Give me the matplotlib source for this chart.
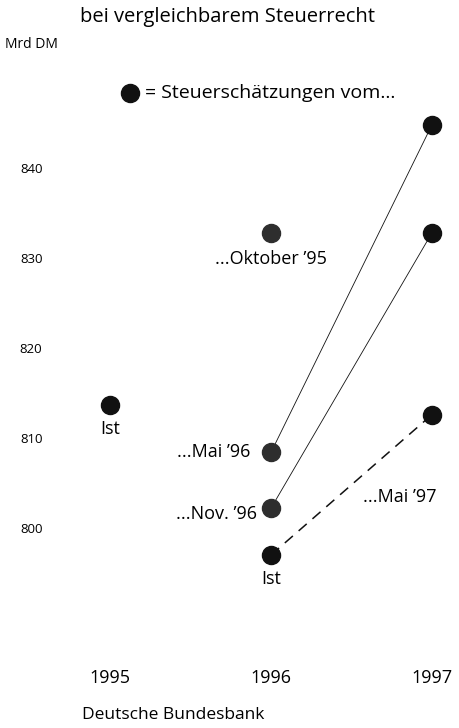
import matplotlib.pyplot as plt

plt.rcParams['font.family'] = ['Open Sans', 'DejaVu Sans']

# Werte (Mrd DM)
years = [1995, 1996, 1997]
ist_years = [1995, 1996]
ist_values = [813.7, 797.0]
okt95_value = 832.8
mai96 = [808.4, 844.8]
nov96 = [802.2, 832.8]
mai97 = [797.0, 812.6]
yticks = [800, 810, 820, 830, 840]

fig = plt.figure(figsize=(4.59, 7.28), dpi=100)
W, H = 459, 728
left, right, top, bottom = 55, 455, 60, 655
ax = fig.add_axes([left / W, 1 - bottom / H, (right - left) / W, (bottom - top) / H])
ax.set_xlim(1995 - 55 / 161, 1995 + 345 / 161)
ax.set_ylim(800 - (bottom - 528) / 9, 800 + (528 - top) / 9)
for s in ax.spines.values():
    s.set_visible(False)

dark = '#111111'
grey = '#2e2e2e'

# Linien der Schaetzungen
ax.plot(years[1:], mai96, color=dark, lw=0.6, zorder=1)
ax.plot(years[1:], nov96, color=dark, lw=0.6, zorder=1)
ax.plot(years[1:], mai97, color=dark, lw=1.1, dashes=(7, 5), zorder=1)

ms = 13
ax.plot(ist_years, ist_values, 'o', color=dark, ms=ms, zorder=2, ls='none')
ax.plot([1996], [okt95_value], 'o', color=grey, ms=ms, zorder=2)
ax.plot([1996, 1996], [mai96[0], nov96[0]], 'o', color=grey, ms=ms, zorder=2, ls='none')
ax.plot([1997, 1997, 1997], [mai96[1], nov96[1], mai97[1]], 'o', color=dark, ms=ms,
        zorder=2, ls='none')

fs = 13
ax.text(1995, ist_values[0] - 1.7, 'Ist', ha='center', va='top', fontsize=fs)
ax.text(1996, ist_values[1] - 1.7, 'Ist', ha='center', va='top', fontsize=fs)
ax.text(1996, okt95_value - 1.9, '...Oktober ’95', ha='center', va='top', fontsize=fs)
ax.text(1996 - 0.13, mai96[0], '...Mai ’96', ha='right', va='center', fontsize=fs)
ax.text(1996 - 0.09, nov96[0] - 0.6, '...Nov. ’96', ha='right', va='center', fontsize=fs)
ax.text(1996.57, 803.5, '...Mai ’97', ha='left', va='center', fontsize=fs)

ax.set_xticks(years)
ax.set_xticklabels([str(y) for y in years], fontsize=13)
ax.set_yticks(yticks)
ax.set_yticklabels([str(v) for v in yticks], fontsize=9.5)
ax.tick_params(axis='x', length=0, pad=10)
ax.tick_params(axis='y', length=0, pad=9)

fig.text(228 / W, 1 - 17 / H, 'bei vergleichbarem Steuerrecht', ha='center', va='center',
         fontsize=14.5)
fig.text(5 / W, 1 - 45 / H, 'Mrd DM', ha='left', va='center', fontsize=10)
fig.text(145 / W, 1 - 93 / H, '= Steuerschätzungen vom...', ha='left', va='center',
         fontsize=14)
fig.lines.append(plt.Line2D([130 / W], [1 - 93 / H], marker='o', color=dark, ms=ms,
                            transform=fig.transFigure))
fig.text(82 / W, 1 - 715 / H, 'Deutsche Bundesbank', ha='left', va='center', fontsize=12.5)

fig.savefig('out.png', dpi=100)
